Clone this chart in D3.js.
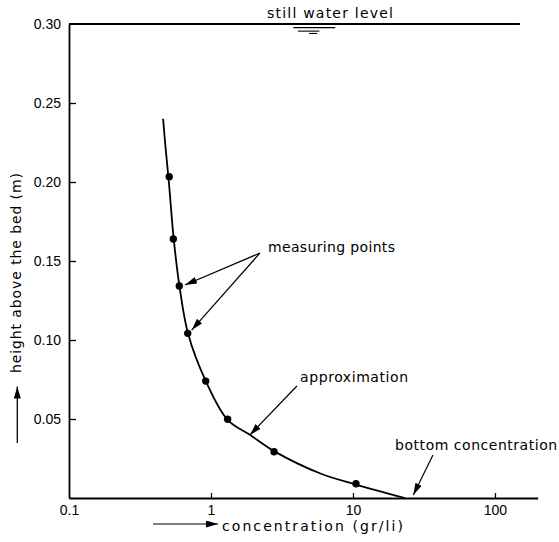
<!DOCTYPE html>
<html>
<head>
<meta charset="utf-8">
<script src="https://cdn.jsdelivr.net/npm/d3@7"></script>
<style>
  html, body { margin: 0; padding: 0; background: #fff; }
  svg { display: block; }
  .lbl { font-family: "DejaVu Sans", sans-serif; font-size: 14px; fill: #000; }
  .tick text { font-family: "Liberation Sans", Arial, sans-serif; font-size: 14px; fill: #000; }
</style>
</head>
<body>
<svg id="chart" width="559" height="542"></svg>
<script>
// ---- data ----
const xTickValues = [0.1, 1, 10, 100];
const xTickLabels = ["0.1", "1", "10", "100"];
const yTickValues = [0.05, 0.10, 0.15, 0.20, 0.25, 0.30];
const yTickLabels = ["0.05", "0.10", "0.15", "0.20", "0.25", "0.30"];

// measuring points: concentration (gr/li), height (m)
const measConc   = [0.508, 0.543, 0.598, 0.686, 0.918, 1.31, 2.78, 10.5];
const measHeight = [0.2034, 0.1639, 0.1342, 0.1042, 0.074, 0.0498, 0.0293, 0.009];

// approximation curve
const approxConc   = [0.46, 0.475, 0.505, 0.545, 0.60, 0.69, 0.92, 1.31, 1.88, 2.8, 5.9, 10.5, 23.2];
const approxHeight = [0.240, 0.225, 0.200, 0.165, 0.134, 0.104, 0.074, 0.0495, 0.040, 0.0295, 0.0155, 0.0085, 0.0];

const waterLevel = 0.30;

// ---- layout ----
const svg = d3.select("#chart");
const x = d3.scaleLog().domain([0.1, 200]).range([69, 537.7]);
const y = d3.scaleLinear().domain([0, 0.30]).range([498, 24]);

// arrow marker
const defs = svg.append("defs");
defs.append("marker")
  .attr("id", "ah").attr("viewBox", "0 0 12 7")
  .attr("refX", 12).attr("refY", 3.5)
  .attr("markerWidth", 12).attr("markerHeight", 7)
  .attr("markerUnits", "userSpaceOnUse")
  .attr("orient", "auto")
  .append("path").attr("d", "M0,0 L12,3.5 L0,7 Z").attr("fill", "#000");

// x axis
const xAxis = d3.axisBottom(x)
  .tickValues(xTickValues)
  .tickFormat((d, i) => xTickLabels[i])
  .tickSize(-5).tickSizeOuter(0).tickPadding(7);
const gx = svg.append("g").attr("transform", `translate(0,${y(0)})`).call(xAxis);
gx.select(".domain").attr("stroke-width", 1.8);
gx.selectAll(".tick line").attr("stroke-width", 1.3).filter(d => d === 0.1).remove();

// y axis
const yAxis = d3.axisLeft(y)
  .tickValues(yTickValues)
  .tickFormat((d, i) => yTickLabels[i])
  .tickSize(-7).tickSizeOuter(0).tickPadding(8);
const gy = svg.append("g").attr("transform", `translate(${x(0.1)},0)`).call(yAxis);
gy.select(".domain").attr("stroke-width", 1.8);
gy.selectAll(".tick line").attr("stroke-width", 1.3).filter(d => d === 0.30).remove();

// still water level line
svg.append("line")
  .attr("x1", x(0.1)).attr("x2", x(150))
  .attr("y1", y(waterLevel)).attr("y2", y(waterLevel))
  .attr("stroke", "#000").attr("stroke-width", 1.8);

// water symbol (three decreasing strokes below the level)
const symStrokes = [[3.8, 7.5, 0.0023], [4.1, 5.8, 0.0045], [4.9, 5.6, 0.0060]];
svg.selectAll(".wsym").data(symStrokes).enter().append("line")
  .attr("x1", d => x(d[0])).attr("x2", d => x(d[1]))
  .attr("y1", d => y(waterLevel - d[2])).attr("y2", d => y(waterLevel - d[2]))
  .attr("stroke", "#000").attr("stroke-width", 1.1);

// approximation curve
const curvePts = approxConc.map((c, i) => [c, approxHeight[i]]);
svg.append("path")
  .datum(curvePts)
  .attr("d", d3.line().x(d => x(d[0])).y(d => y(d[1])).curve(d3.curveCatmullRom.alpha(0.5)))
  .attr("fill", "none").attr("stroke", "#000").attr("stroke-width", 1.8);

// measuring points
svg.selectAll(".pt").data(measConc.map((c, i) => [c, measHeight[i]])).enter()
  .append("circle")
  .attr("cx", d => x(d[0])).attr("cy", d => y(d[1])).attr("r", 3.7)
  .attr("fill", "#000");

// annotations (data coords)
const arrows = [
  [[2.21, 0.155], [0.656, 0.1348]],
  [[2.21, 0.155], [0.731, 0.1063]],
  [[4.03, 0.0709], [1.88, 0.0399]],
  [[36.6, 0.0272], [26.6, 0.0019]]
];
svg.selectAll(".arr").data(arrows).enter().append("line")
  .attr("x1", d => x(d[0][0])).attr("y1", d => y(d[0][1]))
  .attr("x2", d => x(d[1][0])).attr("y2", d => y(d[1][1]))
  .attr("stroke", "#000").attr("stroke-width", 1.2)
  .attr("marker-end", "url(#ah)");

// text labels: [conc, height, text, width]
const labels = [
  [2.48, 0.3038, "still water level", 126],
  [2.52, 0.1557, "measuring points", 127],
  [4.24, 0.0734, "approximation", 108],
  [19.8, 0.0304, "bottom concentration", 162]
];
svg.selectAll(".ann").data(labels).enter().append("text")
  .attr("class", "lbl")
  .attr("x", d => x(d[0])).attr("y", d => y(d[1]))
  .attr("textLength", d => d[3]).attr("lengthAdjust", "spacing")
  .text(d => d[2]);

// x axis title with arrow
svg.append("line")
  .attr("x1", 153).attr("x2", 218).attr("y1", 524).attr("y2", 524)
  .attr("stroke", "#000").attr("stroke-width", 1.2).attr("marker-end", "url(#ah)");
svg.append("text").attr("class", "lbl")
  .attr("x", 222).attr("y", 531)
  .attr("textLength", 181).attr("lengthAdjust", "spacing")
  .text("concentration (gr/li)");

// y axis title with arrow
svg.append("line")
  .attr("x1", 17.3).attr("x2", 17.3).attr("y1", 443).attr("y2", 386.5)
  .attr("stroke", "#000").attr("stroke-width", 1.3).attr("marker-end", "url(#ah)");
svg.append("text").attr("class", "lbl")
  .attr("transform", "translate(20.5,373) rotate(-90)")
  .attr("textLength", 200).attr("lengthAdjust", "spacing")
  .text("height above the bed (m)");
</script>
</body>
</html>
